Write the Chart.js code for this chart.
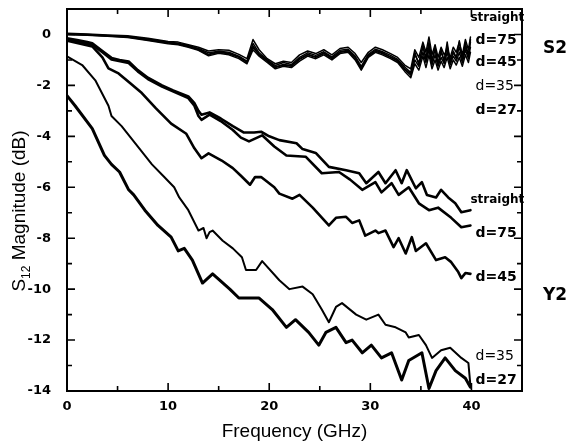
<!DOCTYPE html>
<html>
<head>
<meta charset="utf-8">
<script src="https://cdn.jsdelivr.net/npm/chart.js@4.4.1/dist/chart.umd.min.js"></script>
<style>
  html, body { margin: 0; padding: 0; background: #fff; }
</style>
</head>
<body>
<canvas id="chart" width="570" height="444"></canvas>
<script>
// S2 group: five bends, almost on top of each other
const freqS2 = [0,2,4,6,8,10,11,12,13,14,15,16,17,17.8,18.4,19,19.8,20.6,21.4,22.2,23,23.8,24.6,25.4,26.2,27,27.8,28.5,29.1,29.8,30.5,31.2,32,32.7,33.4,34,34.4,34.8,35.2,35.5,35.8,36.1,36.4,36.7,37,37.3,37.6,37.9,38.2,38.5,38.8,39.1,39.4,39.7,39.9];
const s2Straight = [0.05,0.02,-0.02,-0.05,-0.15,-0.28,-0.3,-0.4,-0.5,-0.65,-0.6,-0.62,-0.78,-0.95,-0.2,-0.6,-0.95,-1.15,-1.05,-1.1,-0.8,-0.65,-0.75,-0.6,-0.8,-0.55,-0.5,-0.75,-1.1,-0.7,-0.5,-0.6,-0.75,-0.9,-1.2,-1.35,-0.6,-0.9,-0.3,-0.7,-0.1,-0.8,-0.4,-0.9,-0.5,-0.8,-0.6,-0.9,-0.5,-0.7,-0.3,-0.8,-0.2,-0.6,-0.1];
const s2D75 = [0.02,0,-0.04,-0.08,-0.18,-0.3,-0.34,-0.43,-0.55,-0.72,-0.66,-0.7,-0.85,-1.05,-0.35,-0.72,-1,-1.22,-1.1,-1.18,-0.9,-0.72,-0.82,-0.68,-0.88,-0.62,-0.58,-0.85,-1.25,-0.78,-0.58,-0.68,-0.82,-0.98,-1.28,-1.5,-0.8,-1.1,-0.5,-0.9,-0.3,-1,-0.6,-1.1,-0.7,-1,-0.45,-1.05,-0.65,-0.9,-0.5,-0.95,-0.35,-0.8,-0.3];
const s2D45 = [0,-0.02,-0.06,-0.1,-0.22,-0.34,-0.38,-0.47,-0.6,-0.8,-0.7,-0.76,-0.9,-1.1,-0.5,-0.8,-1.05,-1.3,-1.2,-1.25,-0.98,-0.8,-0.9,-0.75,-0.95,-0.7,-0.66,-0.95,-1.35,-0.85,-0.66,-0.75,-0.9,-1.05,-1.38,-1.6,-1,-1.25,-0.7,-1.1,-0.6,-1.2,-0.8,-1.25,-0.9,-1.15,-0.7,-1.2,-0.85,-1.05,-0.7,-1.1,-0.6,-0.95,-0.5];
const s2D35 = [0,-0.03,-0.07,-0.12,-0.24,-0.36,-0.4,-0.5,-0.62,-0.84,-0.74,-0.8,-0.95,-1.15,-0.6,-0.85,-1.1,-1.35,-1.25,-1.3,-1.05,-0.85,-0.95,-0.8,-1,-0.75,-0.7,-1,-1.4,-0.9,-0.7,-0.8,-0.95,-1.1,-1.45,-1.7,-1.15,-1.4,-0.85,-1.3,-0.8,-1.35,-1,-1.4,-1.05,-1.3,-0.9,-1.35,-1,-1.2,-0.9,-1.25,-0.8,-1.1,-0.7];
const s2D27 = [0.02,-0.01,-0.05,-0.09,-0.2,-0.32,-0.36,-0.46,-0.58,-0.78,-0.68,-0.74,-0.88,-1.08,-0.45,-0.78,-1.02,-1.28,-1.18,-1.22,-0.95,-0.78,-0.88,-0.72,-0.92,-0.68,-0.62,-0.9,-1.3,-0.82,-0.62,-0.72,-0.88,-1.02,-1.35,-1.55,-0.7,-1.2,-0.4,-1,-0.45,-1.1,-0.5,-1.2,-0.6,-1.1,-0.3,-1.1,-0.7,-0.95,-0.25,-1,-0.45,-0.85,-0.2];

// Y2 group
const freqY2Straight = [0,1,2,2.5,3.5,4.4,5.2,6.1,7,8,9.4,10.5,12,12.6,13,13.3,14.1,15.2,16.4,17.5,18.5,19.2,20,21,22.7,23.3,24.6,25.9,27.6,28.9,29.6,30.8,31.5,32.5,33.1,33.6,34.5,35.1,35.6,36.5,37,37.7,38.4,39,39.9];
const y2Straight = [-0.15,-0.22,-0.3,-0.35,-0.65,-0.92,-1,-1.06,-1.4,-1.7,-2,-2.2,-2.43,-2.7,-3,-3.15,-3.06,-3.3,-3.6,-3.85,-3.85,-3.82,-4,-4.15,-4.27,-4.5,-4.65,-5.2,-5.33,-5.45,-5.84,-5.4,-5.84,-5.33,-5.84,-5.33,-6.04,-5.8,-6.3,-6.4,-6.1,-6.4,-6.63,-6.98,-6.9];
const freqY2D75 = [0,1,2.5,3.5,4.4,6.1,7,8,9.4,12,12.6,13,13.3,14.1,15.2,16.4,17.2,18,19.3,20.5,21.7,23.6,25.2,26.9,28,29.2,30.5,31.1,32.1,32.8,33.8,34.8,35.8,36.7,38,39,39.9];
const y2D75 = [-0.2,-0.28,-0.4,-0.7,-0.98,-1.12,-1.45,-1.75,-2.05,-2.5,-2.8,-3.2,-3.35,-3.15,-3.4,-3.75,-4.05,-4.2,-3.96,-4.4,-4.75,-4.8,-5.45,-5.4,-5.7,-6.1,-5.8,-6.2,-5.84,-6.3,-6,-6.63,-6.9,-6.8,-7.2,-7.57,-7.5];
const freqY2D45 = [0,2.5,3.5,4.1,5.1,6.2,7.4,8.8,10.3,11.8,12.6,13.3,14,15.3,16.4,17.2,18.1,18.6,19.2,20.5,21,22.3,23,24.3,25.9,26.6,27.6,28.2,28.9,29.5,30.5,30.8,31.5,32.3,32.8,33.5,34.1,34.5,35.5,36.5,37.4,38,38.7,39,39.4,39.9];
const y2D45 = [-0.24,-0.47,-0.9,-1.33,-1.53,-1.9,-2.3,-2.9,-3.5,-3.9,-4.47,-4.86,-4.67,-4.95,-5.25,-5.55,-5.9,-5.6,-5.6,-6,-6.25,-6.45,-6.3,-6.8,-7.5,-7.2,-7.16,-7.4,-7.3,-7.9,-7.7,-7.8,-7.7,-8.35,-8,-8.6,-7.96,-8.5,-8.2,-8.86,-8.75,-8.94,-9.33,-9.57,-9.37,-9.4];
const freqY2D35 = [0,1.5,2.8,4.1,4.4,5.4,6.4,7.4,8.4,9.5,10.6,11.1,12,13,13.5,13.8,14.1,14.4,15.4,16.4,17.3,17.7,18.7,19.3,21,22,23.3,24.3,25.2,25.9,26.6,27.2,28.6,29.6,30.8,31.5,32.5,33.5,33.8,34.8,35.5,36.1,37,37.9,39,39.7,39.9];
const y2D35 = [-0.86,-1.2,-1.8,-2.8,-3.2,-3.6,-4.1,-4.6,-5.1,-5.55,-6,-6.4,-6.9,-7.7,-7.6,-8,-7.76,-7.7,-8.1,-8.4,-8.75,-9.25,-9.25,-8.9,-9.65,-10,-9.9,-10.2,-10.8,-11.3,-10.7,-10.55,-11,-11.2,-11,-11.4,-11.5,-11.7,-11.9,-11.8,-12.2,-12.7,-12.4,-12.3,-12.7,-12.9,-13.8];
const freqY2D27 = [0,0.8,2.5,3.7,4.4,5.2,6.1,6.6,7.7,9,10.3,11,11.6,12.4,13.4,14.4,16.1,17,19,20.3,21.7,22.6,23.9,24.9,25.6,26.6,27.6,28.2,29.2,30.1,31.1,32.1,33.1,33.8,35.1,35.8,36.5,37.4,38.4,39.4,39.9];
const y2D27 = [-2.4,-2.8,-3.7,-4.75,-5.1,-5.4,-6.1,-6.3,-6.9,-7.5,-7.96,-8.5,-8.4,-8.86,-9.76,-9.4,-10,-10.35,-10.35,-10.8,-11.5,-11.2,-11.7,-12.2,-11.7,-11.5,-12.1,-12,-12.5,-12.2,-12.7,-12.5,-13.57,-12.8,-12.5,-13.9,-13.2,-12.7,-13.2,-13.5,-13.85];

// curve names and where their labels sit (dB)
const curveNames = ['straight', 'd=75', 'd=45', 'd=35', 'd=27'];
const s2LabelDb = [0.67, -0.24, -1.1, -2.04, -2.98];
const y2LabelDb = [-6.5, -7.8, -9.53, -12.63, -13.57];
const groupNames = ['S2', 'Y2'];
const groupDb = [-0.55, -10.24];

const xMin = 0, xMax = 45, yMin = -14, yMax = 1;

function pts(fs, vs) {
  return fs.map((f, i) => ({x: f, y: vs[i]}));
}
function line(fs, vs, w) {
  return {data: pts(fs, vs), borderColor: '#000', borderWidth: w, showLine: true,
          pointRadius: 0, fill: false, tension: 0, borderJoinStyle: 'round', borderCapStyle: 'round'};
}

const tickFont = {family: 'DejaVu Sans', size: 13, weight: 'bold'};

// frame with inward ticks on all four sides
const frameTicks = {
  id: 'frameTicks',
  afterDraw(chart) {
    const {ctx, chartArea: a, scales} = chart;
    ctx.save();
    ctx.strokeStyle = '#000';
    ctx.lineWidth = 2;
    ctx.strokeRect(a.left, a.top, a.right - a.left, a.bottom - a.top);
    ctx.lineWidth = 1.6;
    ctx.beginPath();
    scales.x.ticks.forEach(t => {
      if (t.value <= xMin || t.value >= xMax) return;
      const px = scales.x.getPixelForValue(t.value);
      const len = t.value % 10 === 0 ? 8 : 5;
      ctx.moveTo(px, a.bottom); ctx.lineTo(px, a.bottom - len);
      ctx.moveTo(px, a.top); ctx.lineTo(px, a.top + len);
    });
    scales.y.ticks.forEach(t => {
      if (t.value <= yMin || t.value >= yMax) return;
      const py = scales.y.getPixelForValue(t.value);
      const len = t.value % 2 === 0 ? 8 : 5;
      ctx.moveTo(a.left, py); ctx.lineTo(a.left + len, py);
      ctx.moveTo(a.right, py); ctx.lineTo(a.right - len, py);
    });
    ctx.stroke();
    ctx.restore();
  }
};

// curve names, group names and the y axis title with its subscript
const annotations = {
  id: 'annotations',
  afterDraw(chart) {
    const {ctx, chartArea: a, scales} = chart;
    const x = scales.x, y = scales.y;
    ctx.save();
    ctx.fillStyle = '#000';
    ctx.textBaseline = 'middle';
    ctx.textAlign = 'left';
    [s2LabelDb, y2LabelDb].forEach(dbs => {
      curveNames.forEach((name, i) => {
        const small = name === 'straight';
        ctx.font = (name === 'd=35' ? '' : 'bold ') + (small ? '12px' : '14px') + ' "DejaVu Sans"';
        ctx.fillText(name, x.getPixelForValue(small ? 39.9 : 40.4), y.getPixelForValue(dbs[i]));
      });
    });
    ctx.font = 'bold 17px "DejaVu Sans"';
    groupNames.forEach((g, i) => {
      ctx.fillText(g, a.right + 21, y.getPixelForValue(groupDb[i]));
    });

    // y title: S12 Magnitude (dB)
    const big = '19px "Liberation Sans"', sub = '12px "Liberation Sans"';
    ctx.font = big; const wS = ctx.measureText('S').width;
    const wRest = ctx.measureText(' Magnitude (dB)').width;
    ctx.font = sub; const wSub = ctx.measureText('12').width;
    const total = wS + wSub + wRest;
    ctx.translate(25, (a.top + a.bottom) / 2 + 11);
    ctx.rotate(-Math.PI / 2);
    ctx.textBaseline = 'alphabetic';
    let cx = -total / 2;
    ctx.font = big; ctx.fillText('S', cx, 0); cx += wS;
    ctx.font = sub; ctx.fillText('12', cx, 5); cx += wSub;
    ctx.font = big; ctx.fillText(' Magnitude (dB)', cx, 0);
    ctx.restore();
  }
};

new Chart(document.getElementById('chart'), {
  type: 'scatter',
  data: {
    datasets: [
      line(freqS2, s2Straight, 1.5),
      line(freqS2, s2D75, 1.5),
      line(freqS2, s2D45, 1.5),
      line(freqS2, s2D35, 1.5),
      line(freqS2, s2D27, 1.5),
      line(freqY2Straight, y2Straight, 2.6),
      line(freqY2D75, y2D75, 2.6),
      line(freqY2D45, y2D45, 2.6),
      line(freqY2D35, y2D35, 2),
      line(freqY2D27, y2D27, 3)
    ]
  },
  options: {
    responsive: false,
    animation: false,
    devicePixelRatio: 1,
    layout: {padding: {top: 9, right: 48, left: 0, bottom: 0}},
    plugins: {legend: {display: false}, tooltip: {enabled: false}},
    scales: {
      x: {
        type: 'linear', min: xMin, max: xMax,
        grid: {display: false}, border: {display: false},
        ticks: {stepSize: 5, color: '#000', font: tickFont, padding: 0, maxRotation: 0,
                callback: v => (v % 10 === 0 && v < xMax) ? v : ''},
        title: {display: true, text: 'Frequency (GHz)', color: '#000',
                font: {family: 'Liberation Sans', size: 19}, padding: {top: 0, bottom: 1}},
        afterFit: s => { s.height = 53; s.paddingLeft = 0; s.paddingRight = 0; }
      },
      y: {
        type: 'linear', min: yMin, max: yMax,
        grid: {display: false}, border: {display: false},
        ticks: {stepSize: 1, color: '#000', font: tickFont, padding: 8,
                callback: v => (v % 2 === 0) ? v : ''},
        afterFit: s => { s.width = 67; s.paddingTop = 0; s.paddingBottom = 0; }
      }
    }
  },
  plugins: [frameTicks, annotations]
});
</script>
</body>
</html>
